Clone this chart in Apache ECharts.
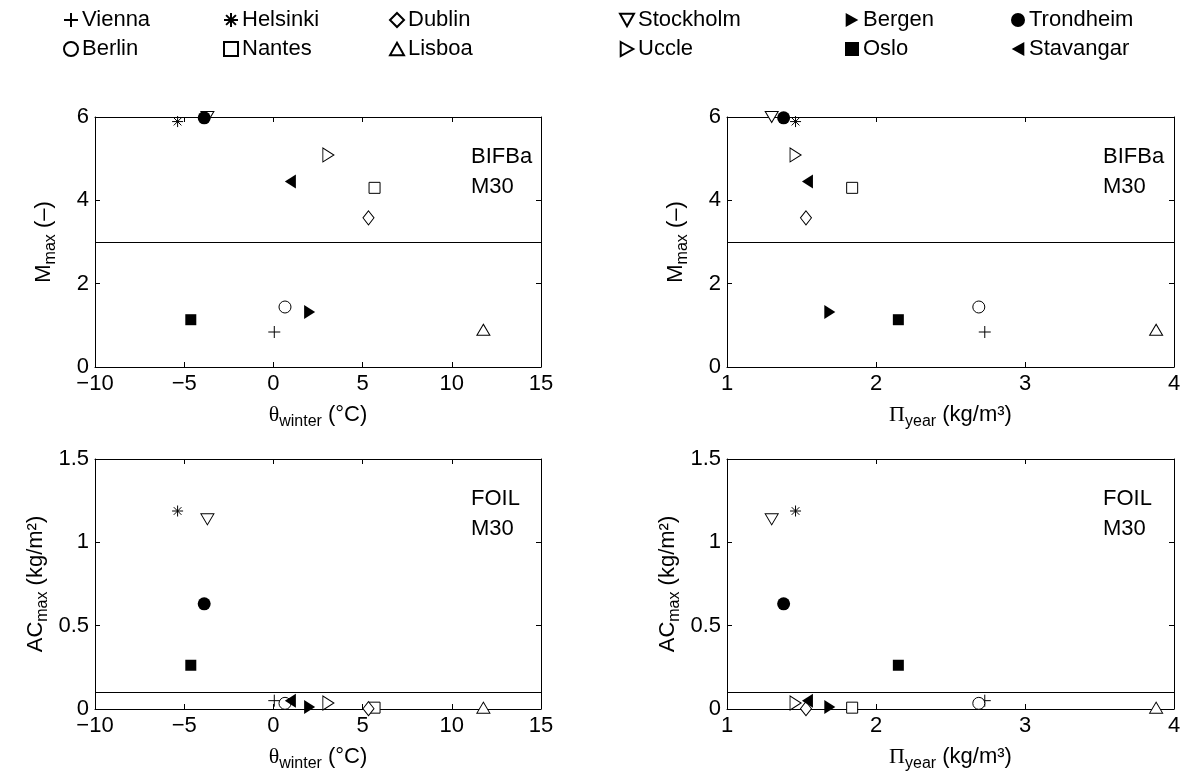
<!DOCTYPE html>
<html>
<head>
<meta charset="utf-8">
<script src="https://cdn.jsdelivr.net/npm/echarts@6/dist/echarts.min.js"></script>
<style>html,body{margin:0;padding:0;background:#fff;}#c{width:1192px;height:782px;}</style>
</head>
<body>
<div id="c"></div>
<script>
// ---- data ----
const cities = ['Vienna','Berlin','Helsinki','Nantes','Dublin','Lisboa','Stockholm','Uccle','Bergen','Oslo','Trondheim','Stavangar'];
const thetaWinter = [0.05, 0.65, -5.37, 5.67, 5.33, 11.77, -3.7, 3.08, 2.03, -4.63, -3.88, 0.95];
const piYear      = [2.73, 2.69, 1.46, 1.84, 1.53, 3.88, 1.30, 1.46, 1.69, 2.15, 1.38, 1.54];
const mMax        = [0.84, 1.44, 5.89, 4.30, 3.58, 0.895, 6.0, 5.09, 1.32, 1.135, 5.98, 4.45];
const acMax       = [0.05, 0.034, 1.188, 0.008, 0.002, 0.008, 1.138, 0.036, 0.012, 0.2625, 0.631, 0.05];
const thresholds  = [3, 3, 0.1, 0.1];
const panelTexts  = [['BIFBa','M30'],['BIFBa','M30'],['FOIL','M30'],['FOIL','M30']];
const xTicksTheta = {min: -10, max: 15, interval: 5};
const xTicksPi    = {min: 1, max: 4, interval: 1};
const yTicksM     = {min: 0, max: 6, interval: 2};
const yTicksAC    = {min: 0, max: 1.5, interval: 0.5};
const legendColumns = [['Vienna','Berlin'],['Helsinki','Nantes'],['Dublin','Lisboa'],['Stockholm','Uccle'],['Bergen','Oslo'],['Trondheim','Stavangar']];

// ---- styles ----
const FONT = 'Liberation Sans';
const OPEN = {color: '#fff', borderColor: '#000', borderWidth: 1, opacity: 1};
const STROKE = {color: 'rgba(0,0,0,0)', borderColor: '#000', borderWidth: 1, opacity: 1};
const FILLED = {color: '#000', borderColor: '#000', borderWidth: 0, opacity: 1};
const markers = {
  Vienna:    {symbol: 'path://M0,5L10,5M5,0L5,10', size: 12, style: STROKE},
  Berlin:    {symbol: 'circle', size: 12, style: OPEN},
  Helsinki:  {symbol: 'path://M5,0L5,10M0,5L10,5M1.5,1.5L8.5,8.5M1.5,8.5L8.5,1.5', size: 11, style: STROKE},
  Nantes:    {symbol: 'rect', size: 11, style: OPEN},
  Dublin:    {symbol: 'diamond', size: [11, 14], style: OPEN},
  Lisboa:    {symbol: 'path://M5,0L10,9L0,9Z', size: [13, 11], style: OPEN},
  Stockholm: {symbol: 'path://M0,0L10,0L5,9Z', size: [13, 11], style: OPEN},
  Uccle:     {symbol: 'path://M0,0L9,5L0,10Z', size: [11, 14], style: OPEN},
  Bergen:    {symbol: 'path://M0,0L9,5L0,10Z', size: [11, 14], style: FILLED},
  Oslo:      {symbol: 'rect', size: 11, style: FILLED},
  Trondheim: {symbol: 'circle', size: 13, style: FILLED},
  Stavangar: {symbol: 'path://M9,0L0,5L9,10Z', size: [11, 14], style: FILLED}
};

const grids = [
  {left: 95, top: 117, width: 446, height: 250},
  {left: 727, top: 117, width: 447, height: 250},
  {left: 95, top: 459, width: 446, height: 250},
  {left: 727, top: 459, width: 447, height: 250}
];

const minusFmt = v => String(v).replace('-', '\u2212');
const richName = {
  n: {fontSize: 22, fontFamily: FONT, color: '#000'},
  g: {fontSize: 22, fontFamily: 'Liberation Serif', color: '#000'},
  s: {fontSize: 16, fontFamily: FONT, color: '#000', padding: [14, 0, 0, 0]}
};
function axisBase(t, gridIndex, pos, showLabels) {
  return {
    type: 'value', gridIndex: gridIndex, position: pos,
    min: t.min, max: t.max, interval: t.interval,
    axisLine: {show: true, onZero: false, lineStyle: {color: '#000', width: 1}},
    axisTick: {show: true, inside: true, length: 5, lineStyle: {color: '#000'}},
    axisLabel: {show: showLabels, color: '#000', fontSize: 22, fontFamily: FONT, margin: 6, formatter: minusFmt},
    splitLine: {show: false}
  };
}
const xNameTheta = '{g|θ}{s|winter}{n| (°C)}';
const xNamePi = '{g|Π}{s|year}{n| (kg/m³)}';
const yNameM = '{n|M}{s|max}{n| (–)}';
const yNameAC = '{n|AC}{s|max}{n| (kg/m²)}';

const xAxes = [], yAxes = [];
const xT = [xTicksTheta, xTicksPi, xTicksTheta, xTicksPi];
const yT = [yTicksM, yTicksM, yTicksAC, yTicksAC];
const xN = [xNameTheta, xNamePi, xNameTheta, xNamePi];
const yN = [yNameM, yNameM, yNameAC, yNameAC];
for (let p = 0; p < 4; p++) {
  const xa = axisBase(xT[p], p, 'bottom', true);
  xa.name = xN[p]; xa.nameLocation = 'middle'; xa.nameGap = 33;
  xa.nameTextStyle = {fontSize: 22, fontFamily: FONT, color: '#000', rich: richName};
  xAxes.push(xa);
  const ya = axisBase(yT[p], p, 'left', true);
  ya.name = yN[p]; ya.nameLocation = 'middle'; ya.nameGap = p < 2 ? 36 : 44;
  ya.nameTextStyle = {fontSize: 22, fontFamily: FONT, color: '#000', rich: richName};
  yAxes.push(ya);
}
for (let p = 0; p < 4; p++) {
  xAxes.push(axisBase(xT[p], p, 'top', false));
  yAxes.push(axisBase(yT[p], p, 'right', false));
}

const series = [];
const xs = [thetaWinter, piYear, thetaWinter, piYear];
const ys = [mMax, mMax, acMax, acMax];
for (let p = 0; p < 4; p++) {
  cities.forEach((c, i) => {
    const m = markers[c];
    const s = {
      type: 'scatter', name: c, xAxisIndex: p, yAxisIndex: p,
      symbol: m.symbol, symbolSize: m.size, itemStyle: m.style,
      clip: false, silent: true,
      data: [[xs[p][i], ys[p][i]]],
      z: 3
    };
    if (i === 0) {
      s.markLine = {
        silent: true, symbol: ['none', 'none'], label: {show: false},
        lineStyle: {color: '#000', width: 1, type: 'solid', opacity: 1},
        data: [{yAxis: thresholds[p]}], animation: false
      };
    }
    series.push(s);
  });
}

const legendLefts = [58, 218, 384, 614, 840, 1006];
const legends = legendColumns.map((names, k) => ({
  data: names, orient: 'vertical', left: legendLefts[k], top: 4,
  itemGap: 7, itemWidth: 14, itemHeight: 14, selectedMode: false,
  textStyle: {fontSize: 22, fontFamily: FONT, color: '#000', padding: [0, 0, 0, -1]}
}));

const graphics = [];
const textLefts = [471, 1103, 471, 1103];
const textTops = [146, 146, 488, 488];
for (let p = 0; p < 4; p++) {
  panelTexts[p].forEach((t, j) => {
    graphics.push({type: 'text', left: textLefts[p], top: textTops[p] + j * 30,
      style: {text: t, fontSize: 22, fontFamily: FONT, fill: '#000'}});
  });
}

const chart = echarts.init(document.getElementById('c'), null, {renderer: 'canvas'});
chart.setOption({
  animation: false,
  backgroundColor: '#fff',
  grid: grids,
  xAxis: xAxes,
  yAxis: yAxes,
  legend: legends,
  graphic: graphics,
  series: series
});
</script>
</body>
</html>
